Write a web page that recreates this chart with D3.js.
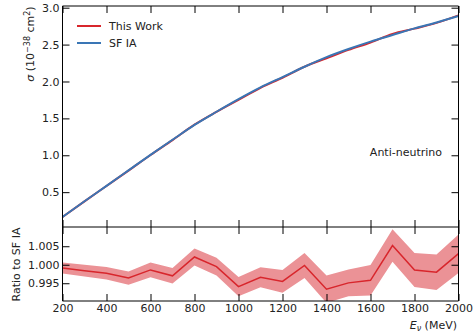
<!DOCTYPE html>
<html>
<head>
<meta charset="utf-8">
<script src="https://cdn.jsdelivr.net/npm/d3@7"></script>
<style>
  html, body { margin: 0; padding: 0; background: #fff; }
  svg { display: block; font-family: "DejaVu Sans", sans-serif; }
</style>
</head>
<body>
<svg id="chart" width="473" height="333"></svg>
<script>
// ---- data ----
const energies = [200, 300, 400, 500, 600, 700, 800, 900, 1000, 1100, 1200, 1300, 1400, 1500, 1600, 1700, 1800, 1900, 2000];
const sfIA     = [0.164, 0.377, 0.585, 0.795, 1.005, 1.210, 1.412, 1.590, 1.761, 1.920, 2.060, 2.200, 2.330, 2.440, 2.540, 2.630, 2.720, 2.800, 2.887];
const thisWork = [0.164, 0.376, 0.584, 0.792, 1.004, 1.206, 1.415, 1.589, 1.751, 1.914, 2.051, 2.200, 2.315, 2.428, 2.529, 2.644, 2.716, 2.794, 2.896];
const ratio    = [0.9991, 0.9984, 0.9977, 0.9964, 0.9986, 0.9970, 1.0021, 0.9995, 0.9941, 0.9966, 0.9955, 0.9998, 0.9934, 0.9951, 0.9958, 1.0052, 0.9986, 0.9980, 1.0030];
const ratioErr = [0.0015, 0.0016, 0.0017, 0.0018, 0.0020, 0.0021, 0.0023, 0.0024, 0.0026, 0.0027, 0.0031, 0.0034, 0.0037, 0.0036, 0.0041, 0.0044, 0.0046, 0.0048, 0.0052];
const xTicks = [200, 400, 600, 800, 1000, 1200, 1400, 1600, 1800, 2000];
const yTicksTop = [0.5, 1.0, 1.5, 2.0, 2.5, 3.0];
const yTicksBottom = [0.995, 1.000, 1.005];
const seriesNames = ["This Work", "SF IA"];

// ---- layout ----
const L = 62.5, R = 458.5;
const topT = 6, topB = 227, botT = 227, botB = 301;
const RED = "#d8262c", BLUE = "#3a76b5", BAND = "#eb9296";
const TICK = 7, FS = 11;

const svg = d3.select("#chart");
const x = d3.scaleLinear().domain([200, 2000]).range([L, R]);
const yTop = d3.scaleLinear().domain([0.028, 3.023]).range([topB, topT]);
const yBot = d3.scaleLinear().domain([0.9902, 1.0102]).range([botB, botT]);

// clip paths
const defs = svg.append("defs");
defs.append("clipPath").attr("id", "clipTop").append("rect")
  .attr("x", L).attr("y", topT).attr("width", R - L).attr("height", topB - topT);
defs.append("clipPath").attr("id", "clipBot").append("rect")
  .attr("x", L).attr("y", botT).attr("width", R - L).attr("height", botB - botT);

// ---- top panel ----
const gTop = svg.append("g").attr("clip-path", "url(#clipTop)");
const lineTop = (arr) => d3.line().x((d, i) => x(energies[i])).y(d => yTop(d)).curve(d3.curveMonotoneX)(arr);
gTop.append("path").attr("d", lineTop(thisWork)).attr("fill", "none").attr("stroke", RED).attr("stroke-width", 2);
gTop.append("path").attr("d", lineTop(sfIA)).attr("fill", "none").attr("stroke", BLUE).attr("stroke-width", 2);

// ---- bottom panel ----
const gBot = svg.append("g").attr("clip-path", "url(#clipBot)");
const area = d3.area()
  .x((d, i) => x(energies[i]))
  .y0((d, i) => yBot(ratio[i] - ratioErr[i]))
  .y1((d, i) => yBot(ratio[i] + ratioErr[i]));
gBot.append("path").attr("d", area(ratio)).attr("fill", BAND).attr("stroke", "none");
gBot.append("path")
  .attr("d", d3.line().x((d, i) => x(energies[i])).y(d => yBot(d))(ratio))
  .attr("fill", "none").attr("stroke", RED).attr("stroke-width", 1.5);

// ---- axes (ticks inward, all sides) ----
function tickAxis(axisFn, scale, ticks, transform, showLabels, fmt) {
  const ax = axisFn(scale).tickValues(ticks).tickSizeInner(-TICK).tickSizeOuter(0)
    .tickPadding(showLabels ? 3 : 0)
    .tickFormat(showLabels ? fmt : "");
  const g = svg.append("g").attr("transform", transform).call(ax);
  g.select(".domain").remove();
  g.selectAll(".tick line").attr("stroke", "#000").attr("stroke-width", 1);
  g.selectAll(".tick text").attr("fill", "#222").style("font-size", FS + "px")
    .style("font-family", "'DejaVu Sans', sans-serif");
  return g;
}
const f1 = d3.format(".1f"), f3 = d3.format(".3f"), f0 = d3.format("d");
// top panel
tickAxis(d3.axisLeft, yTop, yTicksTop, `translate(${L},0)`, true, f1);
tickAxis(d3.axisRight, yTop, yTicksTop, `translate(${R},0)`, false);
tickAxis(d3.axisBottom, x, xTicks, `translate(0,${topB})`, false);
tickAxis(d3.axisTop, x, xTicks, `translate(0,${topT})`, false);
// bottom panel
tickAxis(d3.axisLeft, yBot, yTicksBottom, `translate(${L},0)`, true, f3);
tickAxis(d3.axisRight, yBot, yTicksBottom, `translate(${R},0)`, false);
tickAxis(d3.axisBottom, x, xTicks, `translate(0,${botB})`, true, f0);
tickAxis(d3.axisTop, x, xTicks, `translate(0,${botT})`, false);

// spines
const spine = svg.append("g").attr("stroke", "#000").attr("stroke-width", 1).attr("fill", "none");
[[L, topT, L, botB], [R, topT, R, botB]].forEach(s =>
  spine.append("line").attr("x1", s[0]).attr("y1", s[1]).attr("x2", s[2]).attr("y2", s[3]));
[topT, topB, botB].forEach(yy =>
  spine.append("line").attr("x1", L).attr("x2", R).attr("y1", yy).attr("y2", yy));

// ---- labels ----
const yl = svg.append("text").attr("transform", "translate(34,44) rotate(-90)")
  .attr("text-anchor", "middle").style("font-size", FS + "px").attr("fill", "#222");
yl.append("tspan").style("font-style", "italic").text("σ");
yl.append("tspan").text(" (10");
yl.append("tspan").attr("dy", -4).style("font-size", "8px").text("−38");
yl.append("tspan").attr("dy", 4).text(" cm");
yl.append("tspan").attr("dy", -4).style("font-size", "8px").text("2");
yl.append("tspan").attr("dy", 4).text(")");

svg.append("text").attr("transform", "translate(20,264.5) rotate(-90)")
  .attr("text-anchor", "middle").style("font-size", FS + "px").attr("fill", "#222")
  .text("Ratio to SF IA");

const xl = svg.append("text").attr("x", 457).attr("y", 329).attr("text-anchor", "end")
  .style("font-size", FS + "px").attr("fill", "#222");
xl.append("tspan").style("font-style", "italic").text("E");
xl.append("tspan").attr("dy", 2).style("font-size", "8px").style("font-style", "italic").text("ν");
xl.append("tspan").attr("dy", -2).text(" (MeV)");

svg.append("text").attr("x", 442).attr("y", 156).attr("text-anchor", "end")
  .style("font-size", FS + "px").attr("fill", "#222").text("Anti-neutrino");

// legend
const legColors = [RED, BLUE];
const leg = svg.append("g");
seriesNames.forEach((name, i) => {
  const yy = 26 + i * 17;
  leg.append("line").attr("x1", 77).attr("x2", 101).attr("y1", yy).attr("y2", yy)
    .attr("stroke", legColors[i]).attr("stroke-width", 2);
  leg.append("text").attr("x", 109).attr("y", yy + 4).style("font-size", FS + "px")
    .attr("fill", "#222").text(name);
});
</script>
</body>
</html>
